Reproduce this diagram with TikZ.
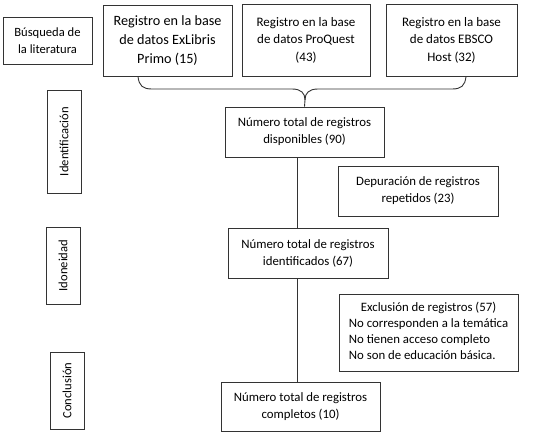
\documentclass[tikz,border=0pt]{standalone}
\usepackage{fontspec}
\setmainfont{Carlito}
\begin{document}
\begin{tikzpicture}[x=1pt,y=-1pt,
  box/.style={draw=black!80,line width=0.9pt,rectangle,inner sep=0pt,align=center,font=\fontsize{12.8}{17}\selectfont},
  side/.style={box,font=\fontsize{12.6}{17}\selectfont},
  vlab/.style={draw=black!80,line width=0.9pt,rectangle,inner sep=0pt,font=\fontsize{12.6}{16}\selectfont},
  conn/.style={draw=black!80,line width=0.9pt}]
\useasboundingbox (0,0) rectangle (534,436);
\node[side,minimum width=89pt,minimum height=47pt] (bus) at (47.5,40.5) {Búsqueda de\\la literatura};
\node[box,minimum width=129pt,minimum height=71pt,font=\fontsize{14.2}{19}\selectfont] (exl) at (167.5,40.5) {Registro en la base\\de datos ExLibris\\Primo (15)};
\node[box,minimum width=128pt,minimum height=72pt,font=\fontsize{13}{17.5}\selectfont] (pq) at (306,40) {Registro en la base\\de datos ProQuest\\(43)};
\node[box,minimum width=131pt,minimum height=72pt,font=\fontsize{13}{17.5}\selectfont] (eb) at (451.5,40) {Registro en la base\\de datos EBSCO\\Host (32)};
\node[vlab,minimum width=103pt,minimum height=34pt,rotate=90] (ide) at (64,141.5) {Identificación};
\node[box,minimum width=159pt,minimum height=50pt] (t90) at (304.5,132) {Número total de registros\\disponibles (90)};
\node[box,minimum width=160pt,minimum height=50pt] (dep) at (418,191) {Depuración de registros\\repetidos (23)};
\node[vlab,minimum width=77pt,minimum height=34pt,rotate=90] (ido) at (63,265.5) {Idoneidad};
\node[box,minimum width=160pt,minimum height=50pt] (t67) at (308,253) {Número total de registros\\identificados (67)};
\node[box,minimum width=179pt,minimum height=77pt,font=\fontsize{12.8}{16}\selectfont] (exc) at (428.5,332.5) {\begin{tabular}{@{}l@{}}\multicolumn{1}{c}{Exclusión de registros (57)}\\No corresponden a la temática\\No tienen acceso completo\\No son de educación básica.\end{tabular}};
\node[vlab,minimum width=77pt,minimum height=34pt,rotate=90] (con) at (67,390.5) {Conclusión};
\node[box,minimum width=159pt,minimum height=49pt] (t10) at (300.5,406.5) {Número total de registros\\completos (10)};
% brace
\coordinate (bl) at (exl.south west -| 138,0);
\coordinate (br) at (eb.south west -| 466,0);
\draw[conn] (bl) .. controls (139,86) and (143,89) .. (152,89) -- (292,89)
  .. controls (301,89) and (305,93) .. (305,100) -- (t90.north);
\draw[conn] (br) .. controls (465,86) and (461,89) .. (452,89) -- (318,89)
  .. controls (309,89) and (305,93) .. (305,100);
\draw[conn] (t90.south -| 297,0) -- (t67.north -| 297,0);
\draw[conn] (t67.south -| 297,0) -- (t10.north -| 297,0);
\end{tikzpicture}
\end{document}
